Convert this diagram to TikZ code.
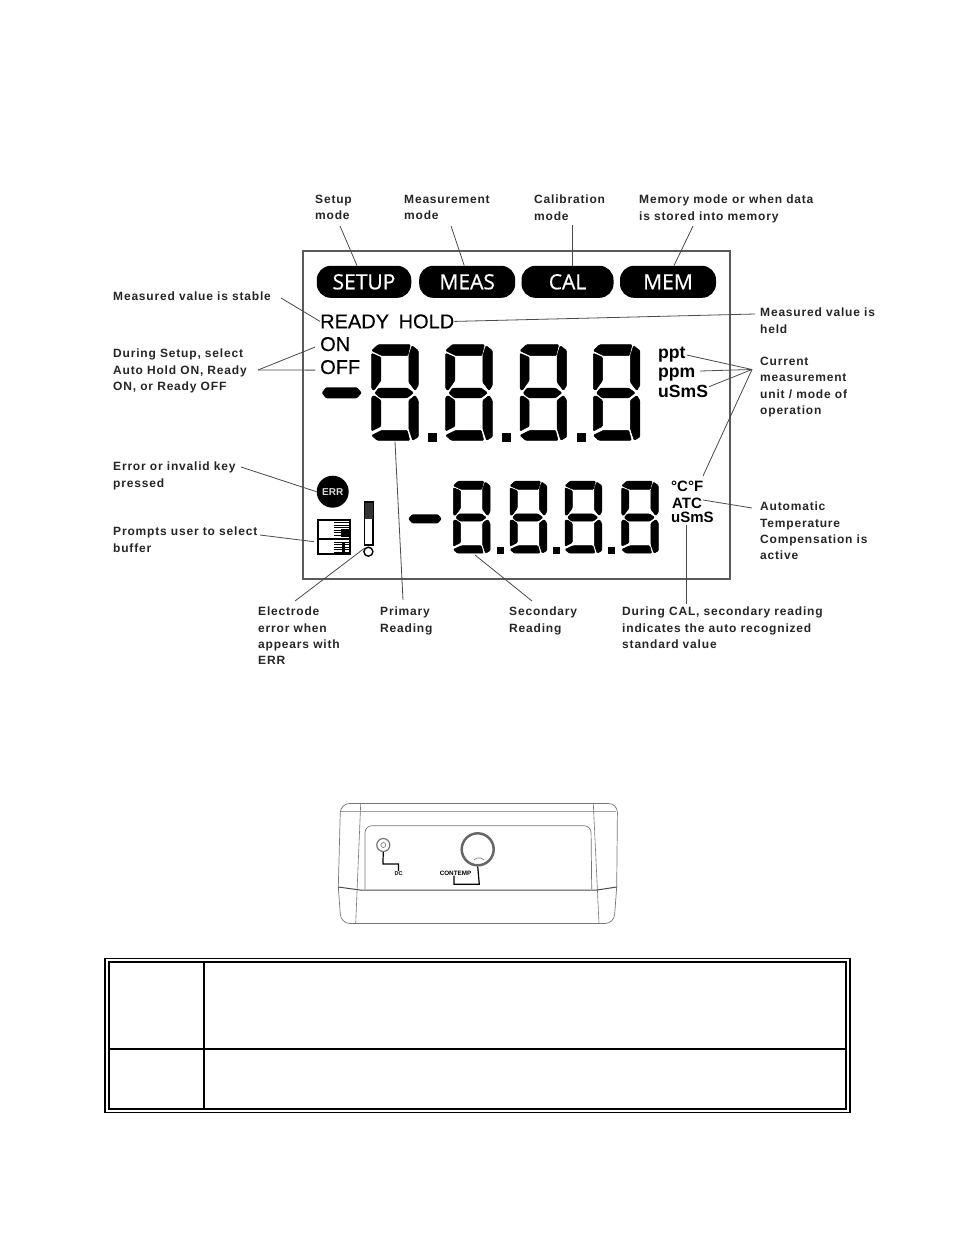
\documentclass[tikz,border=0pt]{standalone}
\usepackage{fontspec}
\setmainfont{Liberation Sans}
\newfontfamily\lblfont[LetterSpace=6.8]{Liberation Sans}
\newfontfamily\pillfont[FakeBold=0.6]{Open Sans}
\newfontfamily\lcdfont[FakeBold=0.3]{Liberation Sans}
\usetikzlibrary{calc}
\definecolor{leadgray}{HTML}{4A4A4A}
\definecolor{framegray}{HTML}{5A5A5A}
\definecolor{bodygray}{HTML}{777777}
\tikzset{
  lbl/.style={anchor=north west, inner sep=0pt, align=left, text=black!85,
    font=\lblfont\bfseries\fontsize{12}{16.3}\selectfont},
  leader/.style={draw=leadgray, line width=0.8pt},
  pill/.style={fill=black, text=white, rounded corners=14pt, inner sep=0pt,
    font=\pillfont\fontsize{21}{21}\selectfont},
  lcdtxt/.style={anchor=base west, inner sep=0pt, font=\lcdfont\fontsize{20}{20}\selectfont},
  unittxt/.style={anchor=base west, inner sep=0pt, font=\bfseries\fontsize{17.6}{17}\selectfont},
  smalltxt/.style={anchor=base west, inner sep=0pt, font=\bfseries\fontsize{15}{15}\selectfont},
  seg/.style={fill=black, draw=black, line width=0.5pt, rounded corners=1pt},
  lcddigit/.pic={
    \path[seg] (20,2) -- (122,2) -- (114,35) -- (32,35) -- (0,20) -- cycle;
    \path[seg] (0,28) -- (29,40) -- (29,110) -- (7,140) -- (0,135) -- cycle;
    \path[seg] (127,5) -- (147,20) -- (147,125) -- (137,140) -- (117,115) -- (117,35) -- cycle;
    \path[seg] (22,133) -- (112,133) -- (132,147) -- (112,162) -- (27,162) -- (10,148) -- cycle;
    \path[seg] (0,160) -- (7,155) -- (29,170) -- (29,248) -- (0,262) -- cycle;
    \path[seg] (32,260) -- (112,260) -- (120,290) -- (17,290) -- (0,275) -- cycle;
    \path[seg] (137,155) -- (147,170) -- (147,280) -- (129,290) -- (117,255) -- (117,170) -- cycle;
  }
}

\begin{document}
\begin{tikzpicture}[x=1pt, y=-1pt]
  \useasboundingbox[fill=white] (0,0) rectangle (954,1247);

  % LCD frame
  \draw[framegray, line width=2pt] (303,251) rectangle (730,579);

  % Mode pills
  \node[pill, minimum width=94.5pt, minimum height=32pt] (pillsetup) at (364,281.8) {SETUP};
  \node[pill, minimum width=96pt, minimum height=32pt] (pillmeas) at (467.2,281.8) {MEAS};
  \node[pill, minimum width=92pt, minimum height=32pt] (pillcal) at (567.5,281.8) {CAL};
  \node[pill, minimum width=96pt, minimum height=32pt] (pillmem) at (668,281.8) {MEM};

  % Status words
  \node[lcdtxt] (txtready) at (320,328.3) {READY\hspace{4pt} HOLD};
  \node[lcdtxt] (txton) at (320,351) {ON};
  \node[lcdtxt] (txtoff) at (320,374) {OFF};

  % Primary reading
  \foreach \x in {371.7,445.7,520,593.3} {
    \pic[xscale=0.317, yscale=0.332] at (\x,344) {lcddigit};
  }
  \foreach \x in {427.7,502.3,576.7} {
    \fill (\x,432.7) rectangle ++(9,9);
  }
  \fill[rounded corners=1pt] (321.7,392.8) -- (326,387.3) -- (357,387.3) -- (361.7,392.8) -- (357,398.3) -- (326,398.3) -- cycle;

  % Secondary reading
  \foreach \x in {453.3,510,565,621.7} {
    \pic[scale=0.25] at (\x,480.7) {lcddigit};
  }
  \foreach \x in {496.7,553.3,608.3} {
    \fill (\x,547) rectangle ++(7,7);
  }
  \fill[rounded corners=1pt] (408.3,518.8) -- (412,514.3) -- (438,514.3) -- (441.7,518.8) -- (438,523.3) -- (412,523.3) -- cycle;

  % Units
  \node[unittxt] (txtppt) at (658,358) {ppt};
  \node[unittxt] (txtppm) at (658,377.7) {ppm};
  \node[unittxt] (txtusms) at (658,397.5) {uSmS};
  \node[smalltxt] (txtdeg) at (671,491.7) {°C°F};
  \node[smalltxt] (txtatc) at (672,508) {ATC};
  \node[smalltxt] (txtusmstwo) at (671,522.5) {uSmS};

  % Error badge
  \node[circle, fill=black, text=white!85!black, inner sep=0pt, minimum size=32pt,
    font=\bfseries\fontsize{10}{10}\selectfont] (err) at (332.7,491.7) {ERR};

  % Buffer icon
  \node[draw, line width=1.6pt, inner sep=0pt, minimum width=32pt, minimum height=34pt] (buffer) at (333.7,536.7) {};
  \draw[line width=1.6pt] (317.5,539) -- (350,539);
  \foreach \y in {522.5,525,527.5,530,532.5,535,542,544.5,547,549.5,552} {
    \draw[line width=1pt] (334,\y) -- (349.5,\y);
  }
  \fill (341,529) rectangle (349.5,537);
  \fill (342,542) rectangle (345,552);

  % Electrode icon
  \node[draw, line width=1.4pt, inner sep=0pt, minimum width=8.5pt, minimum height=43pt] (probe) at (368.6,523.5) {};
  \fill[black!80] (364.6,503) rectangle (372.6,519.3);
  \node[draw, circle, line width=1.4pt, inner sep=0pt, minimum size=9pt] (bulb) at (368.4,551.7) {};

  % Labels above
  \node[lbl] (lblsetup) at (315,195) {Setup\\mode};
  \node[lbl] (lblmeas) at (404,195) {Measurement\\mode};
  \node[lbl] (lblcal) at (534,195) {Calibration\\mode};
  \node[lbl] (lblmem) at (639,195) {Memory mode or when data\\is stored into memory};

  % Labels left
  \node[lbl] (lblstable) at (113,292) {Measured value is stable};
  \node[lbl] (lblonoff) at (113,349) {During Setup, select\\Auto Hold ON, Ready\\ON, or Ready OFF};
  \node[lbl] (lblerr) at (113,462) {Error or invalid key\\pressed};
  \node[lbl] (lblbuffer) at (113,527) {Prompts user to select\\buffer};

  % Labels right
  \node[lbl] (lblheld) at (760,308) {Measured value is\\held};
  \node[lbl] (lblunit) at (760,357) {Current\\measurement\\unit / mode of\\operation};
  \node[lbl] (lblatc) at (760,502) {Automatic\\Temperature\\Compensation is\\active};

  % Labels below
  \node[lbl] (lblprobe) at (258,607) {Electrode\\error when\\appears with\\ERR};
  \node[lbl] (lblprimary) at (380,607) {Primary\\Reading};
  \node[lbl] (lblsecondary) at (509,607) {Secondary\\Reading};
  \node[lbl] (lblstd) at (622,607) {During CAL, secondary reading\\indicates the auto recognized\\standard value};

  % Free ends of the leaders
  \coordinate (footsetup) at (340,226);
  \coordinate (footmeas) at (451,226);
  \coordinate (footcal) at (572,225);
  \coordinate (tipcal) at (572,266);
  \coordinate (footmem) at (693,226);
  \coordinate (footstable) at (281,298);
  \coordinate (meetonoff) at (258,370);
  \coordinate (meetunit) at (752,369.5);
  \coordinate (footerr) at (241,467);
  \coordinate (footbuffer) at (260,535);
  \coordinate (tipbuffer) at (314,541.7);
  \coordinate (footheld) at (755,314);
  \coordinate (tipppt) at (686.7,355);
  \coordinate (tipppm) at (700,371);
  \coordinate (tipusms) at (709,386.7);
  \coordinate (tipdeg) at (703,476);
  \coordinate (footatc) at (752,508);
  \coordinate (tipatc) at (703,500);
  \coordinate (footprobe) at (295,601);
  \coordinate (tipprimary) at (395,441.7);
  \coordinate (footprimary) at (403,600);
  \coordinate (tipsecondary) at (475,555);
  \coordinate (footsecondary) at (532,601);
  \coordinate (tipstd) at (686,525);
  \coordinate (footstd) at (686,604);

  % Leaders, top row
  \draw[leader] (footsetup) -- ([xshift=-7]pillsetup.north);
  \draw[leader] (footmeas) -- ([xshift=-3]pillmeas.north);
  \draw[leader] (footcal) -- (tipcal);
  \draw[leader] (footmem) -- ([xshift=6]pillmem.north);

  % Leaders, left
  \draw[leader] (footstable) -- (txtready.west);
  \draw[leader] (meetonoff) -- ([shift={(-5,3)}]txton.west);
  \draw[leader] (meetonoff) -- ([shift={(-5,3)}]txtoff.west);
  \draw[leader] (footerr) -- (err.west);
  \draw[leader] (footbuffer) -- (tipbuffer);

  % Leaders, right
  \draw[leader] (txtready.east) -- (footheld);
  \draw[leader] (tipppt) -- (meetunit);
  \draw[leader] (tipppm) -- (meetunit);
  \draw[leader] (tipusms) -- (meetunit);
  \draw[leader] (tipdeg) -- (meetunit);
  \draw[leader] (tipatc) -- (footatc);

  % Leaders, bottom
  \draw[leader] (footprobe) -- (bulb.north west);
  \draw[leader] (tipprimary) -- (footprimary);
  \draw[leader] (tipsecondary) -- (footsecondary);
  \draw[leader] (tipstd) -- (footstd);

  % Meter body
  \draw[bodygray, line width=0.7pt, rounded corners=9pt] (338.3,887) -- (340.5,803.5) -- (617.5,803.5) -- (616.7,887);
  \draw[bodygray!70, line width=0.6pt] (341,811.7) -- (615.5,811.7);
  \draw[bodygray, line width=0.7pt, rounded corners=9pt] (338.3,887) -- (341,923.5) -- (614,923.5) -- (616.7,887);
  \draw[bodygray, line width=0.6pt] (360.7,803.5) -- (355.7,923.5);
  \draw[bodygray, line width=0.6pt] (593.3,803.5) -- (599,923.5);
  \draw[bodygray, line width=0.7pt, rounded corners=7pt] (365,889) -- (365,825.7) -- (591,825.7) -- (591.7,889);
  \draw[black!70, line width=1pt] (338.3,887) -- (360,890) -- (597,890) -- (616.7,887);

  % Sockets
  \node[draw=bodygray, circle, line width=1.2pt, inner sep=0pt, minimum size=13pt] (jackdc) at (383.3,845) {};
  \node[draw=bodygray, circle, line width=0.6pt, inner sep=0pt, minimum size=5pt] at (jackdc) {};
  \node[draw=black!60, circle, line width=2.5pt, inner sep=0pt, minimum size=32pt] (jackcon) at (477.7,849.3) {};
  \draw[bodygray, line width=0.6pt] (474,860) -- (477,858) -- (481,858) -- (484,860);
  \node[inner sep=0pt, font=\bfseries\fontsize{5.5}{6}\selectfont] (txtdc) at (398.5,873.3) {DC};
  \node[inner sep=0pt, font=\bfseries\fontsize{6.3}{6}\selectfont] (txtcon) at (455.5,873.3) {CONTEMP};
  \draw[line width=1.2pt] (jackdc.south) -- (382.9,864) -- (398.5,864) -- (txtdc.north);
  \draw[line width=1.2pt] (jackcon.south) -- (479.3,884.3) -- (454,884.3) -- (txtcon.south -| 454,884.3);

  % Table
  \draw[line width=1.2pt] (105,958.7) rectangle (850,1112.3);
  \draw[line width=2pt] (109,962) rectangle (846,1108.7);
  \draw[line width=2pt] (204,962) -- (204,1108.7);
  \draw[line width=2pt] (109,1048.7) -- (846,1048.7);
\end{tikzpicture}
\end{document}
